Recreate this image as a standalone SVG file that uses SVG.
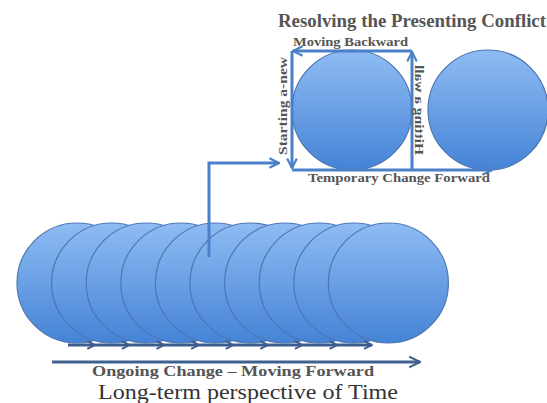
<svg xmlns="http://www.w3.org/2000/svg" width="547" height="403" viewBox="0 0 547 403">
<defs>
<linearGradient id="g" x1="0" y1="0" x2="0" y2="1">
<stop offset="0" stop-color="#8ebcf3"/>
<stop offset="1" stop-color="#4583d6"/>
</linearGradient>
<marker id="ahb" viewBox="0 0 10 10" refX="9" refY="5" markerWidth="3.2" markerHeight="3.2" orient="auto" markerUnits="strokeWidth">
<path d="M1,1 L9,5 L1,9" fill="none" stroke="#3b5c8c" stroke-width="2"/>
</marker>
<marker id="ahl" viewBox="0 0 10 10" refX="9" refY="5" markerWidth="4.5" markerHeight="4.5" orient="auto" markerUnits="strokeWidth">
<path d="M1,1 L9,5 L1,9" fill="none" stroke="#3f6190" stroke-width="1.6"/>
</marker>
<marker id="ahu" viewBox="0 0 10 10" refX="9" refY="5" markerWidth="4" markerHeight="4" orient="auto" markerUnits="strokeWidth">
<path d="M1,1 L9,5 L1,9" fill="none" stroke="#4a80c8" stroke-width="1.8"/>
</marker>
</defs>
<style>
.c{fill:url(#g);stroke:#4d76b2;stroke-width:1.2}
.ln{fill:none;stroke:#4a80c8;stroke-width:3;marker-end:url(#ahu)}
.sm{fill:none;stroke:#3b5c8c;stroke-width:3;marker-end:url(#ahb)}
.t{font-family:"Liberation Serif","Times New Roman",serif;font-weight:bold;fill:#555}
</style>
<g id="timeline">
<g id="c0"><circle class="c" cx="77" cy="283" r="60"/></g>
<g id="c1"><circle class="c" cx="111.6" cy="283" r="60"/></g>
<g id="c2"><circle class="c" cx="146.2" cy="283" r="60"/></g>
<g id="c3"><circle class="c" cx="180.8" cy="283" r="60"/></g>
<g id="c4"><circle class="c" cx="215.4" cy="283" r="60"/></g>
<g id="c5"><circle class="c" cx="250" cy="283" r="60"/></g>
<g id="c6"><circle class="c" cx="284.6" cy="283" r="60"/></g>
<g id="c7"><circle class="c" cx="319.2" cy="283" r="60"/></g>
<g id="c8"><circle class="c" cx="353.8" cy="283" r="60"/></g>
<g id="c9"><circle class="c" cx="388.4" cy="283" r="60"/></g>
</g>
<g id="conflict-circle"><circle class="c" cx="352" cy="110" r="60"/></g>
<g id="next-circle"><circle class="c" cx="488" cy="110" r="60"/></g>
<g id="connectors">
<line class="sm" x1="68" y1="345" x2="95" y2="345"/>
<line class="sm" x1="95" y1="345" x2="129.6" y2="345"/>
<line class="sm" x1="129.6" y1="345" x2="164.2" y2="345"/>
<line class="sm" x1="164.2" y1="345" x2="198.8" y2="345"/>
<line class="sm" x1="198.8" y1="345" x2="233.4" y2="345"/>
<line class="sm" x1="233.4" y1="345" x2="268" y2="345"/>
<line class="sm" x1="268" y1="345" x2="302.6" y2="345"/>
<line class="sm" x1="302.6" y1="345" x2="337.2" y2="345"/>
<line class="sm" x1="337.2" y1="345" x2="371.8" y2="345"/>
<line x1="52" y1="362" x2="420" y2="362" stroke="#3f6190" stroke-width="3" marker-end="url(#ahl)"/>
<polyline class="ln" points="209,257 209,163 279,163"/>
<line class="ln" x1="412" y1="51" x2="293" y2="51"/>
<line class="ln" x1="292" y1="51" x2="292" y2="168"/>
<line class="ln" x1="412" y1="170" x2="412" y2="52"/>
<line class="ln" x1="292" y1="170" x2="492" y2="170"/>
</g>
<g id="labels">
<text class="t" x="278" y="27" font-size="18" textLength="268" lengthAdjust="spacingAndGlyphs">Resolving the Presenting Conflict</text>
<text class="t" x="293" y="46" font-size="11.5" textLength="115" lengthAdjust="spacingAndGlyphs">Moving Backward</text>
<text class="t" x="308" y="182" font-size="12" textLength="182" lengthAdjust="spacingAndGlyphs">Temporary Change Forward</text>
<text class="t" transform="translate(287 155) rotate(-90)" x="0" y="0" font-size="13" textLength="98" lengthAdjust="spacingAndGlyphs">Starting a-new</text>
<text class="t" transform="matrix(0 -1 -1 0 415 155)" x="0" y="0" font-size="13" textLength="90" lengthAdjust="spacingAndGlyphs">Hitting a wall</text>
<text class="t" x="92" y="376" font-size="15" textLength="282" lengthAdjust="spacingAndGlyphs">Ongoing Change – Moving Forward</text>
<text x="98" y="399" font-family="'Liberation Serif','Times New Roman',serif" font-size="21" fill="#333" textLength="300" lengthAdjust="spacingAndGlyphs">Long-term perspective of Time</text>
</g>
</svg>
